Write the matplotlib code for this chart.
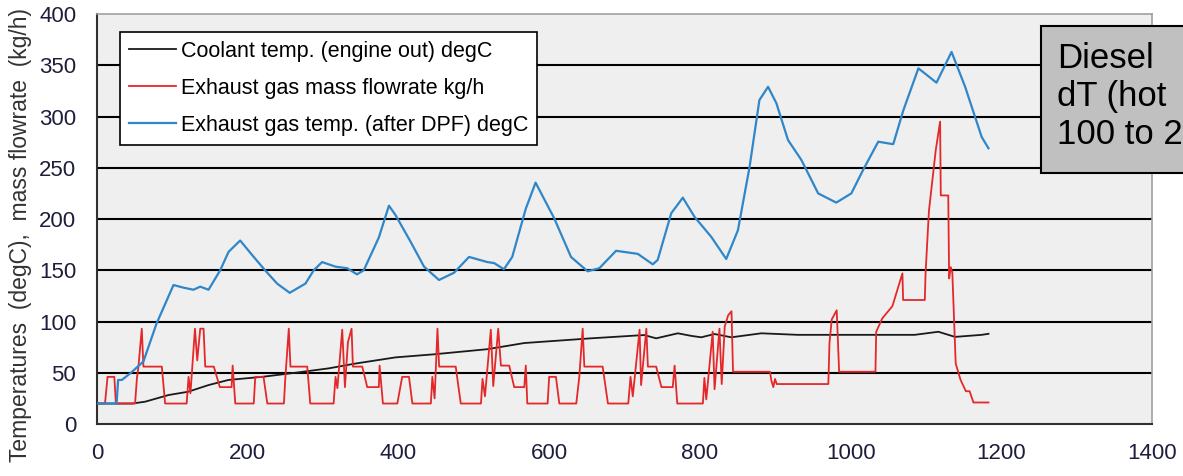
import matplotlib
matplotlib.use('Agg')
import matplotlib.pyplot as plt
from matplotlib.patches import Rectangle
import numpy as np

plt.rcParams['font.family'] = ['Liberation Sans', 'DejaVu Sans']

# time (s) / value pairs
coolant_t = [0, 47, 64, 95, 121, 148, 174.6, 219, 263, 307.5, 343, 396, 447, 518, 567,
             655.5, 726, 742, 770.8, 788.5, 801.8, 819.5, 841.7, 881.6, 930, 997, 1085,
             1116.5, 1138.6, 1174, 1183]
coolant_v = [20, 20, 21.8, 28.3, 31.5, 38, 43, 46, 50, 54.3, 59, 65, 68, 73, 79,
             83.6, 86.8, 83.6, 88.5, 86, 84.6, 87.8, 84.6, 88.5, 87, 87, 87,
             90, 85, 87, 88]

flow_t = [0, 10.6, 14, 23, 25, 50.5, 53, 55, 59.4, 61.6, 86, 90.4, 119, 121.5, 124, 130, 133,
          137, 141.4, 143.6, 155, 163, 178.6, 180, 183.5, 208, 210, 221, 226, 248, 250, 254.5,
          256.7, 279, 283, 314, 316.5, 319, 325.4, 329, 333, 337.8, 339.6, 352, 358.6, 374, 375,
          379.4, 398.5, 405, 414, 418.5, 443, 445, 448, 451.8, 454, 476, 482.7, 509.5, 511.6,
          514.8, 522.6, 525.8, 532.4, 536, 547, 553.6, 567, 569, 571, 598, 600, 609, 613.5, 636,
          640, 644.5, 646.7, 671, 678, 705, 708, 711, 720, 722, 729, 731, 742, 749, 764, 766.5,
          770, 804, 806, 808.5, 817, 819.5, 826, 829, 833, 837.5, 842, 844, 893, 895, 897.5,
          899.7, 902, 970.5, 972, 975, 981.6, 984.8, 1033, 1034, 1042, 1055.5, 1068.8, 1069.7,
          1098.5, 1099.5, 1104, 1113, 1118.8, 1119.7, 1129.6, 1130.8, 1133, 1135, 1139.5, 1146,
          1153, 1158, 1163, 1183]
flow_v = [20, 20, 46, 46, 20, 20, 45, 56, 93, 56, 56, 20, 20, 46, 30, 93, 62,
          93, 93, 56, 56, 36, 36, 57, 20, 20, 46, 46, 20, 20, 46, 93,
          56, 56, 20, 20, 46, 35, 92, 36, 80, 93, 56, 56, 36, 36, 57,
          20, 20, 46, 46, 20, 20, 46, 25, 93, 56, 56, 20, 20, 44,
          27, 92, 37, 93, 57, 57, 36, 36, 57, 20, 20, 46, 46, 20, 20,
          46, 93, 56, 56, 20, 20, 46, 27, 92, 38, 93, 56, 56, 36, 36, 57,
          20, 20, 45, 24, 90, 34, 93, 39, 95, 106, 110, 51, 51, 42, 36,
          44, 39, 39, 79, 102, 111, 51, 51, 90, 103, 115, 147, 121,
          121, 147, 208, 267, 295, 223, 223, 142, 153, 148, 59, 43,
          32, 32, 21, 21]

exh_t = [0, 26, 28, 33, 45, 61.6, 79, 101.5, 115, 128, 137, 148, 163.5, 174.6, 190, 205.7,
         223, 239, 255.7, 276.6, 287.6, 298.7, 316.5, 332, 345, 354, 374, 387.4, 396, 416, 434,
         453.8, 473.8, 493.7, 518, 527, 540, 551, 569, 582, 606.7, 629, 651, 666.6, 688.8,
         717.6, 737.5, 744, 762, 777.4, 793, 815, 835, 850.5, 866, 879, 890.5, 901.5, 917,
         934.7, 957, 981, 1001, 1016.7, 1036.7, 1056.6, 1070, 1090, 1114, 1134, 1152, 1174, 1183]
exh_v = [20, 20, 43, 43, 50, 61, 98, 135.6, 133, 131, 134, 131, 150, 168, 179, 165,
         150, 137, 128, 137, 150, 158, 153.5, 152, 146, 150, 182, 213, 204, 178, 153.5,
         140.5, 147.6, 163, 158, 157, 151, 163, 210, 235.5, 200.7, 163, 149, 152, 169,
         166, 155.8, 160, 205.6, 220.8, 202, 182.7, 161, 189, 251, 316, 329, 313, 277,
         257.6, 225, 216, 225, 248, 275.4, 273, 306, 347, 333, 363, 329, 280, 269]

labels = ['Coolant temp. (engine out) degC', 'Exhaust gas mass flowrate kg/h',
          'Exhaust gas temp. (after DPF) degC']
y_ticks = [0, 50, 100, 150, 200, 250, 300, 350, 400]
x_ticks = [0, 200, 400, 600, 800, 1000, 1200, 1400]

fig = plt.figure(figsize=(11.83, 4.76), dpi=100)
ax = fig.add_axes([0.082, 0.1092, 0.8918, 0.8614])
ax.set_facecolor('#efefef')

for yv in y_ticks[1:-1]:
    ax.axhline(yv, color='black', lw=1.5, zorder=1)

ax.plot(coolant_t, coolant_v, color='#1a1a1a', lw=1.3, label=labels[0], zorder=3,
        solid_joinstyle='round')
ax.plot(flow_t, flow_v, color='#e4282a', lw=1.3, label=labels[1], zorder=3,
        solid_joinstyle='round')
ax.plot(exh_t, exh_v, color='#2f86c8', lw=1.6, label=labels[2], zorder=4,
        solid_joinstyle='round')

ax.set_xlim(0, 1400)
ax.set_ylim(0, 400)
ax.set_xticks(x_ticks)
ax.set_yticks(y_ticks)
ax.tick_params(length=0, labelsize=16, labelcolor='#1e1e3c')
ax.tick_params(axis='y', pad=15)
ax.tick_params(axis='x', pad=14)
for s in ['top', 'right']:
    ax.spines[s].set_color('#a0a0a0')
    ax.spines[s].set_linewidth(1.2)
for s in ['left', 'bottom']:
    ax.spines[s].set_color('#303030')
    ax.spines[s].set_linewidth(1.5)

ax.set_ylabel('Temperatures  (degC),  mass flowrate  (kg/h)', fontsize=16.5, color='#333333')
ax.yaxis.set_label_coords(-0.062, 0.462)

leg = ax.legend(loc='upper left', bbox_to_anchor=(0.0218, 0.956), borderaxespad=0,
                fancybox=False, framealpha=1, edgecolor='black', facecolor='white',
                fontsize=15.5, handlelength=2.2, handletextpad=0.25, labelspacing=0.75,
                borderpad=0.4)
leg.get_frame().set_linewidth(1.2)
leg.set_zorder(10)

# note box, cut by the right edge of the figure (as in the source)
fig.patches.append(Rectangle((1041 / 1183, 1 - 173 / 476), 0.2, 147 / 476,
                             transform=fig.transFigure, facecolor='#c0c0c0',
                             edgecolor='black', lw=1.5, zorder=20))
fig.text(1057 / 1183, 1 - 42 / 476, 'Diesel\ndT (hot\n100 to 2', fontsize=25,
         va='top', ha='left', linespacing=1.2, zorder=21)

fig.savefig('out.png', dpi=100)
